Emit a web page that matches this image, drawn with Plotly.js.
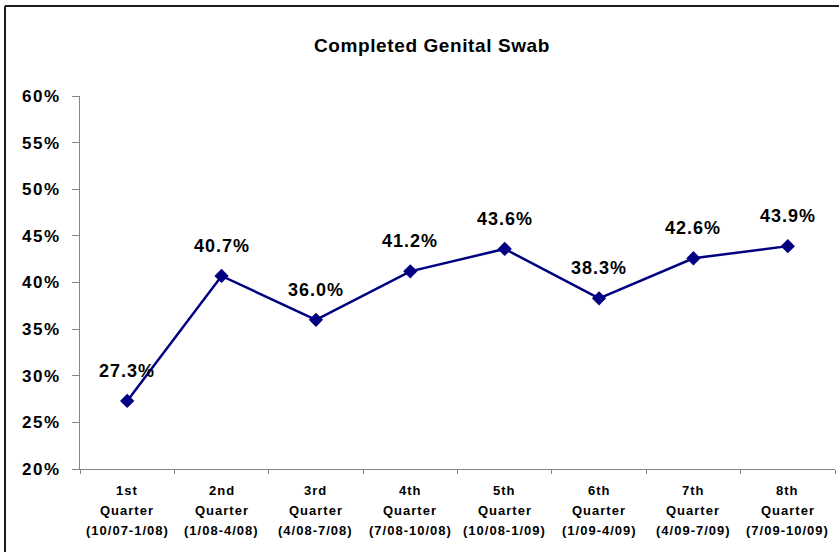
<!DOCTYPE html>
<html>
<head>
<meta charset="utf-8">
<script src="https://cdn.plot.ly/plotly-3.0.1.min.js"></script>
<style>
  html, body { margin: 0; padding: 0; background: #fff; }
  #chart { width: 839px; height: 552px; }
  .ytick text { letter-spacing: 1.5px; }
  .annotation-text { letter-spacing: 1px; }
  .gtitle { letter-spacing: 0.6px; }
</style>
</head>
<body>
<div id="chart"></div>
<script>
// ---- data ----
const quarterNames = ["1st", "2nd", "3rd", "4th", "5th", "6th", "7th", "8th"];
const quarterWord = ["Quarter", "Quarter", "Quarter", "Quarter", "Quarter", "Quarter", "Quarter", "Quarter"];
const quarterPeriods = ["(10/07-1/08)", "(1/08-4/08)", "(4/08-7/08)", "(7/08-10/08)", "(10/08-1/09)", "(1/09-4/09)", "(4/09-7/09)", "(7/09-10/09)"];
const completedPct = [27.3, 40.7, 36.0, 41.2, 43.6, 38.3, 42.6, 43.9];
const yTickVals = [20, 25, 30, 35, 40, 45, 50, 55, 60];
const yTickText = ["20%", "25%", "30%", "35%", "40%", "45%", "50%", "55%", "60%"];

// ---- layout constants ----
const W = 839, H = 552;
const M = { l: 80, r: 4, t: 96, b: 83 };
const PW = W - M.l - M.r, PH = H - M.t - M.b;
const px2x = p => (p - M.l) / PW;
const py2y = p => (H - M.b - p) / PH;

const font = "Liberation Sans, Arial, sans-serif";
const categories = quarterNames.map((q, i) => q + " Quarter " + quarterPeriods[i]);

const trace = {
  type: "scatter",
  mode: "lines+markers",
  x: categories,
  y: completedPct,
  line: { color: "#000080", width: 2.5 },
  marker: { symbol: "diamond", size: 11, color: "#000080" },
  hoverinfo: "skip"
};

const annotations = [];
completedPct.forEach((v, i) => {
  annotations.push({
    x: categories[i], y: v, xref: "x", yref: "y",
    text: v.toFixed(1) + "%", showarrow: false,
    yshift: 30, xanchor: "center", yanchor: "middle",
    font: { family: font, size: 18, color: "#000", weight: "bold" }
  });
});
const lineSets = [quarterNames, quarterWord, quarterPeriods];
const lineShifts = [-21, -41, -61];
lineSets.forEach((arr, li) => {
  arr.forEach((t, i) => {
    annotations.push({
      x: categories[i], y: 0, xref: "x", yref: "paper",
      text: t, showarrow: false, yshift: lineShifts[li],
      xanchor: "center", yanchor: "middle",
      font: { family: font, size: 13, color: "#000", weight: "bold" }
    });
  });
});

const frameColor = "#1e1e1e";
const shapes = [
  { type: "line", xref: "paper", yref: "paper",
    x0: px2x(5), x1: px2x(5), y0: py2y(H + 10), y1: py2y(6),
    line: { color: frameColor, width: 2 } },
  { type: "line", xref: "paper", yref: "paper",
    x0: px2x(5), x1: px2x(W + 10), y0: py2y(6), y1: py2y(6),
    line: { color: frameColor, width: 2 } }
];

const layout = {
  width: W, height: H,
  margin: M,
  paper_bgcolor: "#fff", plot_bgcolor: "#fff",
  showlegend: false,
  title: {
    text: "Completed Genital Swab",
    xref: "container", yref: "container",
    x: 432 / W, xanchor: "center",
    y: 1 - 45 / H, yanchor: "middle",
    font: { family: font, size: 19, color: "#000", weight: "bold" }
  },
  xaxis: {
    type: "category",
    range: [-0.5, categories.length - 0.5],
    showline: true, linecolor: "#858585", linewidth: 1,
    ticks: "outside", tickson: "boundaries", ticklen: 4, tickcolor: "#858585",
    showticklabels: false, showgrid: false, zeroline: false, fixedrange: true
  },
  yaxis: {
    range: [20, 60],
    tickvals: yTickVals, ticktext: yTickText,
    showline: true, linecolor: "#858585", linewidth: 1,
    ticks: "outside", ticklen: 7, tickcolor: "#858585",
    ticklabelstandoff: 8,
    tickfont: { family: font, size: 17, color: "#000", weight: "bold" },
    showgrid: false, zeroline: false, fixedrange: true
  },
  annotations: annotations,
  shapes: shapes
};

Plotly.newPlot("chart", [trace], layout, { displayModeBar: false, staticPlot: true });
</script>
</body>
</html>
